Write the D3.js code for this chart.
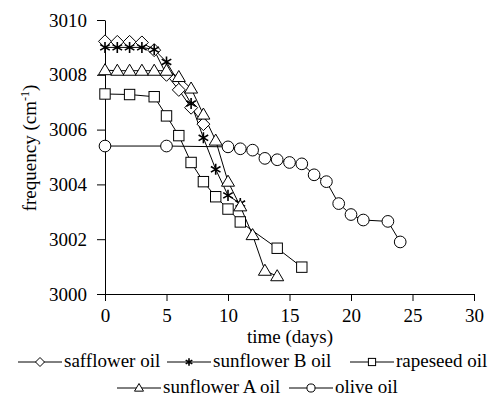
<!DOCTYPE html>
<html>
<head>
<meta charset="utf-8">
<script src="https://cdn.jsdelivr.net/npm/d3@7"></script>
<style>
  svg, svg text, svg tspan { font-family: "Liberation Serif", Tinos, "Times New Roman", serif !important; }
</style>
</head>
<body style="margin:0; background:#fff">
<script>
// data
var safflowerDays = [0, 1, 2, 3, 4, 5, 6, 7, 8];
var safflowerFreq = [3009.22, 3009.2, 3009.2, 3009.18, 3008.9, 3008.0, 3007.45, 3006.8, 3006.2];

var sunBDays = [0, 1, 2, 3, 4, 5, 7, 8, 9, 10, 11];
var sunBFreq = [3009.0, 3009.0, 3009.0, 3009.0, 3008.92, 3008.47, 3006.95, 3005.7, 3004.55, 3003.6, 3003.3];

var rapeDays = [0, 2, 4, 5, 6, 7, 8, 9, 10, 11, 14, 16];
var rapeFreq = [3007.3, 3007.28, 3007.2, 3006.5, 3005.78, 3004.8, 3004.1, 3003.55, 3003.1, 3002.63, 3001.67, 3000.98];

var sunADays = [0, 1, 2, 3, 4, 5, 6, 7, 8, 9, 10, 11, 12, 13, 14];
var sunAFreq = [3008.17, 3008.15, 3008.15, 3008.15, 3008.15, 3008.15, 3007.92, 3007.5, 3006.55, 3005.6, 3004.1, 3003.2, 3002.15, 3000.85, 3000.65];

var oliveDays = [0, 5, 10, 11, 12, 13, 14, 15, 16, 17, 18, 19, 20, 21, 23, 24];
var oliveFreq = [3005.4, 3005.4, 3005.37, 3005.3, 3005.25, 3004.95, 3004.9, 3004.8, 3004.75, 3004.35, 3004.1, 3003.3, 3002.9, 3002.7, 3002.65, 3001.9];

var xTicks = [0, 5, 10, 15, 20, 25, 30];
var yTicks = [3000, 3002, 3004, 3006, 3008, 3010];

var series = [
  { name: "safflower oil", days: safflowerDays, freq: safflowerFreq, shape: "diamond" },
  { name: "sunflower B oil", days: sunBDays, freq: sunBFreq, shape: "star" },
  { name: "rapeseed oil", days: rapeDays, freq: rapeFreq, shape: "square" },
  { name: "sunflower A oil", days: sunADays, freq: sunAFreq, shape: "triangle" },
  { name: "olive oil", days: oliveDays, freq: oliveFreq, shape: "circle" }
];

var serif = "Liberation Serif";
var fs = "19px";
var width = 495, height = 408;
var svg = d3.select("body").append("svg")
  .attr("width", width)
  .attr("height", height)
  .style("font-family", serif);

var x = d3.scaleLinear().domain([0, 30]).range([105, 474]);
var y = d3.scaleLinear().domain([3000, 3010]).range([294, 20]);

// axes
var xAxis = svg.append("g")
  .attr("transform", "translate(0," + y(3000) + ")")
  .call(d3.axisBottom(x).tickValues(xTicks).tickSize(7).tickPadding(8).tickSizeOuter(0));
var yAxis = svg.append("g")
  .attr("transform", "translate(" + x(0) + ",0)")
  .call(d3.axisLeft(y).tickValues(yTicks).tickFormat(d3.format("d")).tickSize(8).tickPadding(10).tickSizeOuter(0));

[xAxis, yAxis].forEach(function(a) {
  a.attr("font-family", null).attr("font-size", null);
  a.select(".domain").attr("stroke", "#000").attr("stroke-width", 1);
  a.selectAll(".tick line").attr("stroke", "#000");
  a.selectAll(".tick text")
    .attr("fill", "#000")
    .style("font-family", serif)
    .style("font-size", fs);
});

// axis titles
svg.append("text")
  .attr("x", 290).attr("y", 343)
  .attr("text-anchor", "middle")
  .style("font-family", serif).style("font-size", fs)
  .text("time (days)");

var ylab = svg.append("text")
  .attr("transform", "translate(36,148) rotate(-90)")
  .attr("text-anchor", "middle")
  .style("font-family", serif).style("font-size", fs);
ylab.append("tspan").text("frequency (cm");
ylab.append("tspan").attr("dy", -7).style("font-size", "12px").text("-1");
ylab.append("tspan").attr("dy", 7).text(")");

// markers
function drawMarker(g, shape, cx, cy, s) {
  if (shape == "diamond") {
    g.append("path")
      .attr("d", "M" + cx + "," + (cy - s) + "L" + (cx + s) + "," + cy + "L" + cx + "," + (cy + s) + "L" + (cx - s) + "," + cy + "Z")
      .attr("fill", "#fff").attr("stroke", "#000");
  } else if (shape == "square") {
    g.append("rect")
      .attr("x", cx - s * 0.8).attr("y", cy - s * 0.8)
      .attr("width", s * 1.6).attr("height", s * 1.6)
      .attr("fill", "#fff").attr("stroke", "#000");
  } else if (shape == "triangle") {
    g.append("path")
      .attr("d", "M" + cx + "," + (cy - s) + "L" + (cx + s) + "," + (cy + s * 0.7) + "L" + (cx - s) + "," + (cy + s * 0.7) + "Z")
      .attr("fill", "#fff").attr("stroke", "#000");
  } else if (shape == "circle") {
    g.append("circle")
      .attr("cx", cx).attr("cy", cy).attr("r", s * 0.9)
      .attr("fill", "#fff").attr("stroke", "#000");
  } else if (shape == "star") {
    var r = s * 0.85, d = "";
    for (var i = 0; i < 3; i++) {
      var ang = Math.PI / 2 + i * Math.PI / 3;
      d += "M" + (cx + r * Math.cos(ang)) + "," + (cy + r * Math.sin(ang)) +
           "L" + (cx - r * Math.cos(ang)) + "," + (cy - r * Math.sin(ang));
    }
    g.append("path").attr("d", d).attr("stroke", "#000").attr("stroke-width", 1.6);
  }
}

var line = d3.line()
  .x(function(d) { return x(d[0]); })
  .y(function(d) { return y(d[1]); });

var plot = svg.append("g");
series.forEach(function(s) {
  var pts = s.days.map(function(d, i) { return [d, s.freq[i]]; });
  plot.append("path")
    .datum(pts)
    .attr("d", line)
    .attr("fill", "none")
    .attr("stroke", "#000")
    .attr("stroke-width", 1);
});
series.forEach(function(s) {
  var g = plot.append("g");
  s.days.forEach(function(d, i) {
    drawMarker(g, s.shape, x(d), y(s.freq[i]), 6.5);
  });
});

// legend
var legendPos = [
  { lx: 18, ly: 362 }, { lx: 167, ly: 362 }, { lx: 350, ly: 362 },
  { lx: 117, ly: 388 }, { lx: 289, ly: 388 }
];
var legend = svg.append("g");
series.forEach(function(s, i) {
  var p = legendPos[i];
  var g = legend.append("g");
  g.append("line")
    .attr("x1", p.lx).attr("x2", p.lx + 44)
    .attr("y1", p.ly).attr("y2", p.ly)
    .attr("stroke", "#000");
  drawMarker(g, s.shape, p.lx + 22, p.ly, 4.5);
  g.append("text")
    .attr("x", p.lx + 46).attr("y", p.ly + 5)
    .style("font-family", serif).style("font-size", fs)
    .text(s.name);
});
</script>
</body>
</html>
